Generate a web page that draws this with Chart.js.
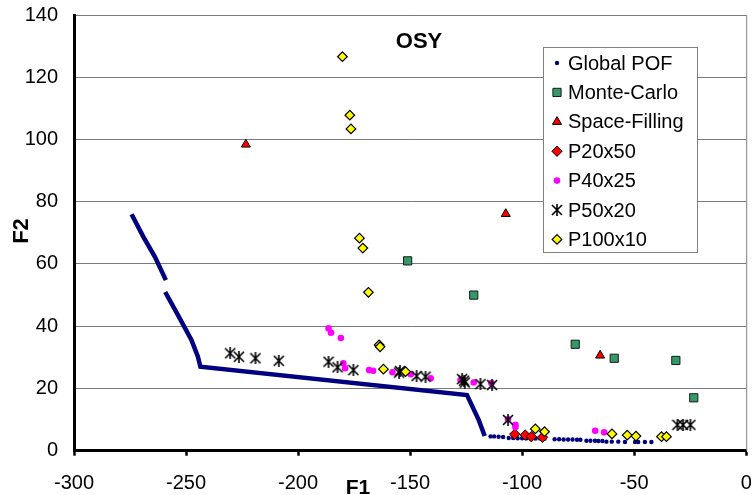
<!DOCTYPE html>
<html>
<head>
<meta charset="utf-8">
<script src="https://cdn.jsdelivr.net/npm/chart.js@4/dist/chart.umd.min.js"></script>
<style>
    body { margin: 0; background: #fff; }
    #wrap { width: 753px; height: 495px; position: relative; }
</style>
</head>
<body>
<div id="wrap"><canvas id="osyChart"></canvas></div>
<script>
// Values, as [F1, F2] pairs
const globalCurve = [
    [-274.3, 76.0], [-269.1, 68.8], [-263.9, 62.3], [-259.0, 54.8],
    [-259.2, null], // the short gap in the front
    [-259.3, 51.0], [-252.8, 42.5], [-247.6, 35.6], [-244.7, 30.2], [-243.6, 27.0],
    [-124.6, 17.9], [-119.4, 9.9], [-116.7, 4.7]
];
const globalDots = [
    [-114.1, 4.6], [-112.5, 4.6], [-110.5, 4.5], [-108.5, 4.4], [-106, 4.1], [-104, 4.1],
    [-102, 4.0], [-100, 4.0], [-98, 4.0], [-96, 3.9], [-94, 3.9], [-92, 3.9], [-90, 3.8],
    [-85.5, 3.7], [-83.5, 3.7], [-81.5, 3.6], [-79.5, 3.6], [-77.5, 3.6], [-75.5, 3.5], [-74, 3.5],
    [-71.3, 3.2], [-69.5, 3.2], [-67.5, 3.2], [-66, 3.1], [-64.2, 3.1],
    [-62.4, 2.9], [-60, 2.9], [-57.1, 2.9], [-54.1, 2.8], [-49.6, 2.8], [-48.2, 2.8],
    [-45.2, 2.8], [-42.3, 2.8]
];
const monteCarlo = [
    [-151.1, 61.0], [-121.6, 50.0], [-76.3, 34.2], [-58.9, 29.7], [-31.4, 29.0], [-23.4, 17.0]
];
const spaceFilling = [
    [-223.3, 98.4], [-107.3, 76.1], [-65.2, 30.6]
];
const p20x50 = [
    [-103.3, 5.3], [-98.6, 5.0], [-95.9, 4.5], [-90.9, 4.3]
];
const p40x25 = [
    [-186.4, 39.3], [-185.3, 37.9], [-180.9, 36.2], [-179.8, 28.1], [-179.0, 26.5],
    [-168.3, 25.9], [-166.5, 25.7], [-157.9, 25.2], [-149.7, 24.6], [-140.8, 23.3],
    [-127.5, 22.7], [-121.6, 21.9], [-113.7, 21.7], [-106.3, 10.1], [-103.0, 8.3],
    [-103.0, 7.6], [-67.4, 6.4], [-63.4, 5.9]
];
const p50x20 = [
    [-230.3, 31.3], [-226.4, 30.2], [-219.0, 29.7], [-208.6, 28.9], [-186.4, 28.6],
    [-182.4, 26.8], [-175.3, 25.9], [-154.9, 25.1], [-154.5, 25.6], [-147.1, 24.0],
    [-143.1, 23.8], [-126.8, 23.0], [-125.9, 22.5], [-125.6, 21.9], [-118.6, 21.4],
    [-113.4, 21.1], [-106.3, 9.9], [-30.7, 8.3], [-28.2, 8.3], [-24.9, 8.3]
];
const p100x10 = [
    [-180.2, 126.6], [-176.9, 107.8], [-176.4, 103.4], [-172.6, 68.3], [-171.1, 65.1],
    [-168.6, 50.9], [-163.8, 34.0], [-163.4, 33.4], [-161.9, 26.2], [-152.0, 25.4],
    [-94.1, 7.0], [-90.0, 6.1], [-59.9, 5.4], [-53.1, 5.0], [-49.2, 4.7],
    [-37.8, 4.5], [-35.6, 4.5]
];

const xTicks = [-300, -250, -200, -150, -100, -50, 0];
const yTicks = [0, 20, 40, 60, 80, 100, 120, 140];
const chartTitle = 'OSY';
const xTitle = 'F1';
const yTitle = 'F2';

const toXY = arr => arr.map(p => ({ x: p[0], y: p[1] }));

// Excel style star: an x with a vertical stroke
function makeStar(size) {
    const c = document.createElement('canvas');
    c.width = size;
    c.height = size;
    const g = c.getContext('2d');
    g.strokeStyle = '#000';
    g.lineWidth = 1.6;
    g.beginPath();
    g.moveTo(1, 1); g.lineTo(size - 1, size - 1);
    g.moveTo(size - 1, 1); g.lineTo(1, size - 1);
    g.moveTo(size / 2, 0); g.lineTo(size / 2, size);
    g.stroke();
    return c;
}
const starImg = makeStar(12);

// marker styles, shared by the datasets and the drawn legend
const seriesStyles = [
    { label: 'Global POF', data: globalDots, pointStyle: 'circle', radius: 2.2, bg: '#000080', border: '#000080', bw: 0 },
    { label: 'Monte-Carlo', data: monteCarlo, pointStyle: 'rect', radius: 5.8, bg: '#339966', border: '#1a1a1a', bw: 1 },
    { label: 'Space-Filling', data: spaceFilling, pointStyle: 'triangle', radius: 5.2, bg: '#ff0000', border: '#000000', bw: 1 },
    { label: 'P20x50', data: p20x50, pointStyle: 'rectRot', radius: 5.2, bg: '#ff0000', border: '#000000', bw: 1 },
    { label: 'P40x25', data: p40x25, pointStyle: 'circle', radius: 3.3, bg: '#ff00ff', border: '#ff00ff', bw: 0 },
    { label: 'P50x20', data: p50x20, pointStyle: starImg, radius: 6, bg: '#000000', border: '#000000', bw: 0 },
    { label: 'P100x10', data: p100x10, pointStyle: 'rectRot', radius: 4.8, bg: '#ffff00', border: '#000000', bw: 1.2 }
];

const datasets = [{
    label: 'Global POF curve',
    data: toXY(globalCurve),
    showLine: true,
    spanGaps: false,
    borderColor: '#000080',
    borderWidth: 4.5,
    pointRadius: 0,
    order: 20
}];
seriesStyles.forEach((s, i) => {
    datasets.push({
        label: s.label,
        data: toXY(s.data),
        pointStyle: s.pointStyle,
        pointRadius: s.radius,
        pointHoverRadius: s.radius,
        backgroundColor: s.bg,
        borderColor: s.border,
        borderWidth: s.bw,
        order: 10 - i   // later series on top, like the original
    });
});

function drawMarker(ctx, s, x, y) {
    ctx.save();
    ctx.fillStyle = s.bg;
    ctx.strokeStyle = s.border;
    ctx.lineWidth = s.bw;
    if (Chart.helpers && Chart.helpers.drawPoint) {
        Chart.helpers.drawPoint(ctx, { pointStyle: s.pointStyle, radius: s.radius, rotation: 0, borderWidth: s.bw }, x, y);
    } else {
        ctx.beginPath();
        ctx.arc(x, y, s.radius, 0, Math.PI * 2);
        ctx.fill();
    }
    ctx.restore();
}

const decorations = {
    id: 'decorations',
    afterDraw(chart) {
        const ctx = chart.ctx;
        const area = chart.chartArea;
        ctx.save();
        // right edge of the plot
        ctx.strokeStyle = '#808080';
        ctx.lineWidth = 1;
        ctx.beginPath();
        ctx.moveTo(area.right + 0.5, area.top);
        ctx.lineTo(area.right + 0.5, area.bottom);
        ctx.stroke();

        ctx.fillStyle = '#000';
        ctx.textAlign = 'center';
        ctx.textBaseline = 'middle';
        ctx.font = 'bold 22px "Liberation Sans", Arial, sans-serif';
        ctx.fillText(chartTitle, 419, 42);

        ctx.font = 'bold 21px "Liberation Sans", Arial, sans-serif';
        ctx.fillText(xTitle, 358, 488);

        ctx.save();
        ctx.translate(22, 231);
        ctx.rotate(-Math.PI / 2);
        ctx.font = 'bold 22px "Liberation Sans", Arial, sans-serif';
        ctx.fillText(yTitle, 0, 0);
        ctx.restore();

        // legend box
        const lx = 543, ly = 47, lw = 154, lh = 205;
        ctx.fillStyle = '#fff';
        ctx.fillRect(lx, ly, lw, lh);
        ctx.strokeStyle = '#808080';
        ctx.lineWidth = 1;
        ctx.strokeRect(lx + 0.5, ly + 0.5, lw, lh);
        ctx.font = '20px "Liberation Sans", Arial, sans-serif';
        ctx.textAlign = 'left';
        seriesStyles.forEach((s, i) => {
            const y = 63 + i * 29.4;
            drawMarker(ctx, s, 557, y);
            ctx.fillStyle = '#000';
            ctx.fillText(s.label, 568, y + 1);
        });
        ctx.restore();
    }
};

const ctx = document.getElementById('osyChart').getContext('2d');
new Chart(ctx, {
    type: 'scatter',
    data: { datasets: datasets },
    options: {
        responsive: true,
        maintainAspectRatio: false,
        animation: false,
        layout: { padding: { top: 15, right: 4.7, left: 0, bottom: 0 } },
        scales: {
            x: {
                type: 'linear',
                min: -300,
                max: 0,
                afterBuildTicks: axis => { axis.ticks = xTicks.map(v => ({ value: v })); },
                afterFit: axis => { axis.height = 44.3; axis.paddingLeft = 0; axis.paddingRight = 0; },
                ticks: {
                    color: '#000',
                    padding: 16,
                    maxRotation: 0,
                    font: { family: '"Liberation Sans", Arial, sans-serif', size: 20 }
                },
                grid: {
                    drawOnChartArea: false,
                    tickLength: 5,
                    tickWidth: 2.5,
                    tickColor: '#000'
                },
                border: { color: '#000', width: 3 }
            },
            y: {
                type: 'linear',
                min: 0,
                max: 140,
                afterBuildTicks: axis => { axis.ticks = yTicks.map(v => ({ value: v })); },
                afterFit: axis => { axis.width = 74; axis.paddingTop = 0; axis.paddingBottom = 0; },
                ticks: {
                    color: '#000',
                    padding: 16,
                    font: { family: '"Liberation Sans", Arial, sans-serif', size: 20 }
                },
                grid: {
                    color: '#7a7a7a',
                    lineWidth: 1,
                    drawTicks: false
                },
                border: { color: '#000', width: 3 }
            }
        },
        plugins: {
            legend: { display: false },
            tooltip: { enabled: false }
        }
    },
    plugins: [decorations]
});
</script>
</body>
</html>
